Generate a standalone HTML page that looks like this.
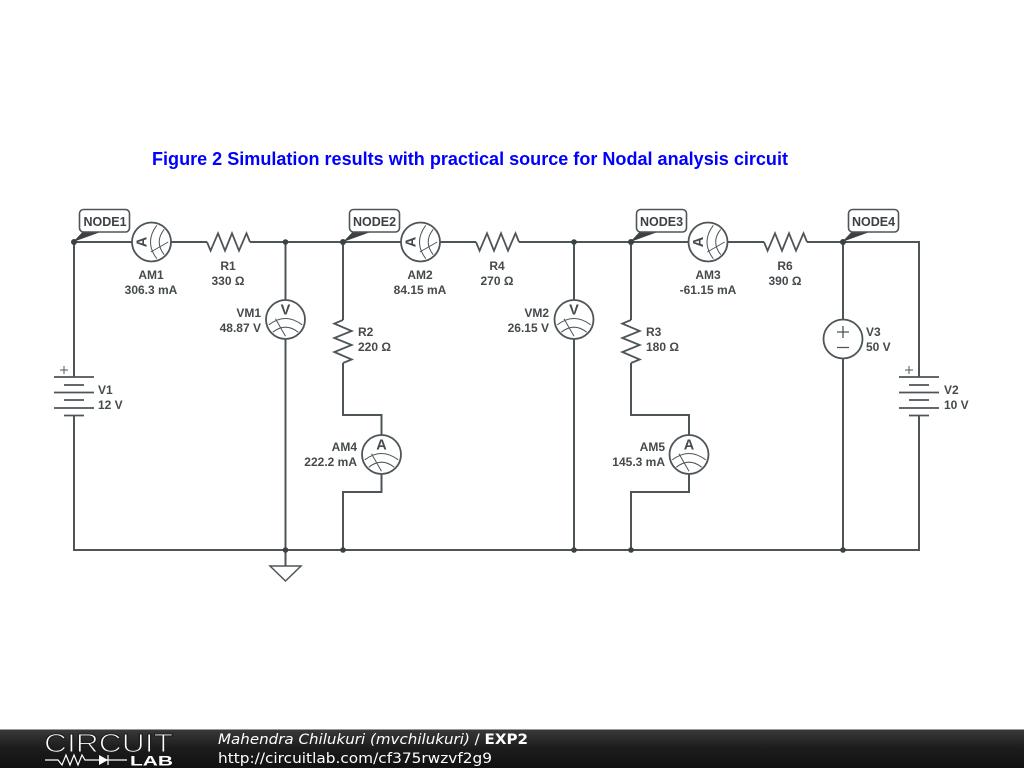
<!DOCTYPE html>
<html>
<head>
<meta charset="utf-8">
<style>
html,body{margin:0;padding:0;background:#fff}
svg{display:block}
.w{fill:none;stroke:#4d5559;stroke-width:2}
.l{font:bold 12px "Liberation Sans",sans-serif;fill:#454a4d}
.m{text-anchor:middle}.e{text-anchor:end}
.n{font:bold 12.5px "Liberation Sans",sans-serif;fill:#3c4144;text-anchor:middle}
.mt{font:bold 14.5px "Liberation Sans",sans-serif;fill:#454a4d;text-anchor:middle}
.f{font:14px "DejaVu Sans",sans-serif;fill:#fff}
</style>
</head>
<body>
<svg width="1024" height="768" viewBox="0 0 1024 768" xmlns="http://www.w3.org/2000/svg">
<defs>
<g id="meter">
  <circle r="19.5" fill="#fff" stroke="#4d5559" stroke-width="1.8"/>
  <path d="M-16.700 5.300Q0 -7.300 16.700 5.300M-12.700 12.700Q0 2.700 12.700 12.700M-10 -0.700L0 16.700" fill="none" stroke="#4d5559" stroke-width="1"/>
</g>
<g id="res"><polyline points="0,0 3.6,8.7 11,-8.7 18,8.7 25,-8.7 32,8.7 39.500,-8.7 43,0" fill="none" stroke="#4d5559" stroke-width="1.8"/></g>
<g id="bat">
  <path d="M-20 0H20M-10 8H10M-20 15.500H20M-10 23H10M-20 31H20M-10 38.500H10" fill="none" stroke="#4d5559" stroke-width="1.800"/>
  <path d="M-14 -7H-6M-10 -11V-3" fill="none" stroke="#4d5559" stroke-width="1"/>
</g>
<g id="flag">
  <path d="M-1 0L9 -10.500H28Z" fill="#3c4144"/>
  <rect x="5.500" y="-32.500" width="50" height="22.500" rx="4" fill="#fff" stroke="#4d5559" stroke-width="1.600"/>
</g>
</defs>

<text x="152" y="165" font-family="Liberation Sans, sans-serif" font-weight="bold" font-size="18" fill="#0000ff" textLength="636" lengthAdjust="spacingAndGlyphs">Figure 2 Simulation results with practical source for Nodal analysis circuit</text>

<!-- wires -->
<path class="w" d="M74 377V242H132M171 242H207M250 242H401M440 242H476M519 242H689M728 242H764M807 242H919V377"/>
<path class="w" d="M74 415.500V550H919V415.500"/>
<path class="w" d="M285.500 242V300M285.500 339V566"/>
<path class="w" d="M343 242V320M343 363V415H381.500V435M381.500 474V492H343V550"/>
<path class="w" d="M574 242V300M574 339V550"/>
<path class="w" d="M631 242V320M631 363V415H689V435M689 474V492H631V550"/>
<path class="w" d="M843 242V320M843 359V550"/>
<path d="M285.500 566H270L285.500 581L301 566Z" fill="#fff" stroke="#4d5559" stroke-width="1.500"/>

<!-- dots -->
<g fill="#3c4144">
<circle cx="74" cy="242" r="3"/><circle cx="285.500" cy="242" r="2.800"/><circle cx="343" cy="242" r="3"/><circle cx="574" cy="242" r="2.800"/><circle cx="631" cy="242" r="3"/><circle cx="843" cy="242" r="3"/>
<circle cx="285.500" cy="550" r="2.800"/><circle cx="343" cy="550" r="2.800"/><circle cx="574" cy="550" r="2.800"/><circle cx="631" cy="550" r="2.800"/><circle cx="843" cy="550" r="2.800"/>
</g>

<!-- resistors -->
<use href="#res" x="207" y="242"/>
<use href="#res" x="476" y="242"/>
<use href="#res" x="764" y="242"/>
<g transform="translate(343 320) rotate(90)"><use href="#res"/></g>
<g transform="translate(631 320) rotate(90)"><use href="#res"/></g>

<!-- batteries -->
<use href="#bat" x="74" y="377"/>
<use href="#bat" x="919" y="377"/>

<!-- V3 source -->
<circle cx="843" cy="339" r="19.500" fill="#fff" stroke="#4d5559" stroke-width="1.800"/>
<path d="M837 332H849M843 326V338M837 347.500H849" fill="none" stroke="#4d5559" stroke-width="1.300"/>

<!-- ammeters horizontal -->
<g transform="translate(151.500 242) rotate(-90)"><use href="#meter"/><text class="mt" y="-5">A</text></g>
<g transform="translate(420.500 242) rotate(-90)"><use href="#meter"/><text class="mt" y="-5">A</text></g>
<g transform="translate(708 242) rotate(-90)"><use href="#meter"/><text class="mt" y="-5">A</text></g>
<!-- vertical meters -->
<g transform="translate(285.500 319.500)"><use href="#meter"/><text class="mt" y="-5">V</text></g>
<g transform="translate(574 319.500)"><use href="#meter"/><text class="mt" y="-5">V</text></g>
<g transform="translate(381.500 454.500)"><use href="#meter"/><text class="mt" y="-5">A</text></g>
<g transform="translate(689 454.500)"><use href="#meter"/><text class="mt" y="-5">A</text></g>

<!-- flags -->
<use href="#flag" x="74" y="242"/><use href="#flag" x="344" y="242"/><use href="#flag" x="631" y="242"/><use href="#flag" x="843" y="242"/>
<text class="n" x="105" y="226">NODE1</text>
<text class="n" x="374.500" y="226">NODE2</text>
<text class="n" x="661.500" y="226">NODE3</text>
<text class="n" x="873.500" y="226">NODE4</text>

<!-- labels -->
<text class="l m" x="151" y="279">AM1</text><text class="l m" x="151" y="294">306.3 mA</text>
<text class="l m" x="228" y="270">R1</text><text class="l m" x="228" y="285">330 Ω</text>
<text class="l e" x="261" y="317">VM1</text><text class="l e" x="261" y="332">48.87 V</text>
<text class="l" x="358" y="336">R2</text><text class="l" x="358" y="351">220 Ω</text>
<text class="l e" x="357" y="451">AM4</text><text class="l e" x="357" y="466">222.2 mA</text>
<text class="l" x="98" y="394">V1</text><text class="l" x="98" y="409">12 V</text>
<text class="l m" x="420" y="279">AM2</text><text class="l m" x="420" y="294">84.15 mA</text>
<text class="l m" x="497" y="270">R4</text><text class="l m" x="497" y="285">270 Ω</text>
<text class="l e" x="549" y="317">VM2</text><text class="l e" x="549" y="332">26.15 V</text>
<text class="l" x="646" y="336">R3</text><text class="l" x="646" y="351">180 Ω</text>
<text class="l e" x="665" y="451">AM5</text><text class="l e" x="665" y="466">145.3 mA</text>
<text class="l m" x="708" y="279">AM3</text><text class="l m" x="708" y="294">-61.15 mA</text>
<text class="l m" x="785" y="285">390 Ω</text><text class="l m" x="785" y="270">R6</text>
<text class="l" x="866" y="336">V3</text><text class="l" x="866" y="351">50 V</text>
<text class="l" x="944" y="394">V2</text><text class="l" x="944" y="409">10 V</text>

<!-- footer -->
<linearGradient id="bar" x1="0" y1="0" x2="0" y2="1"><stop offset="0" stop-color="#3a3a3a"/><stop offset="0.5" stop-color="#1c1c1c"/><stop offset="1" stop-color="#111"/></linearGradient>
<rect x="0" y="729" width="1024" height="39" fill="url(#bar)"/>
<rect x="0" y="729" width="1024" height="1" fill="#999"/>
<text x="44" y="752" font-family="Liberation Sans, sans-serif" font-size="26" fill="#fff" stroke="#1e1e1e" stroke-width="1.100" textLength="129" lengthAdjust="spacingAndGlyphs">CIRCUIT</text>
<path d="M45 760H58L62 765L66 755L70 765L74 755L78 765L82 755L85 760H127M108 755V765" fill="none" stroke="#fff" stroke-width="1.200"/>
<path d="M99 755V765L108 760Z" fill="#fff"/>
<text x="130" y="765.500" font-family="Liberation Sans, sans-serif" font-size="13.500" font-weight="bold" fill="#fff" textLength="43" lengthAdjust="spacingAndGlyphs">LAB</text>
<text class="f" x="218" y="744" textLength="310" lengthAdjust="spacingAndGlyphs"><tspan font-style="italic">Mahendra Chilukuri (mvchilukuri)</tspan> / <tspan font-weight="bold">EXP2</tspan></text>
<text class="f" x="218" y="763" textLength="274" lengthAdjust="spacingAndGlyphs">http://circuitlab.com/cf375rwzvf2g9</text>
</svg>
</body>
</html>
